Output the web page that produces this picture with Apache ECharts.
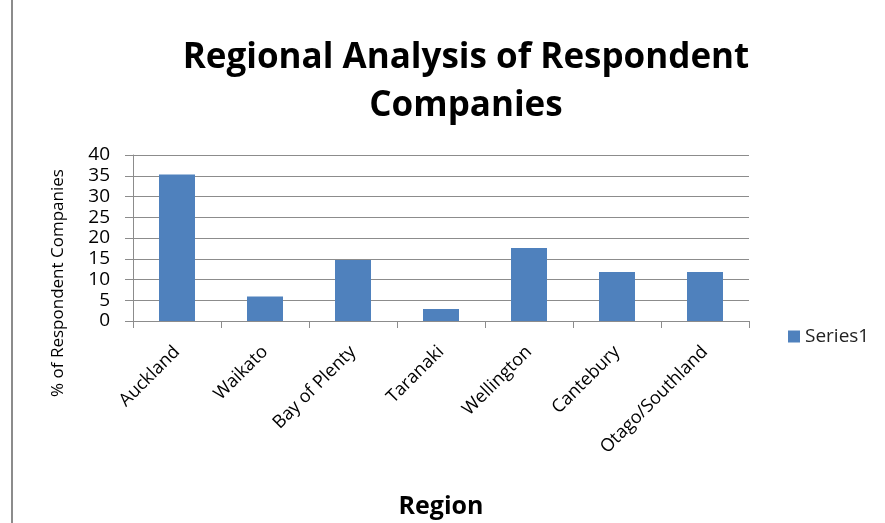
<!DOCTYPE html>
<html>
<head>
<meta charset="utf-8">
<script src="https://cdn.jsdelivr.net/npm/echarts@6/dist/echarts.min.js"></script>
<style>
  html, body { margin: 0; padding: 0; background: #fff; }
  #chart { width: 885px; height: 523px; }
</style>
</head>
<body>
<div id="chart"></div>
<script>
var regions = ['Auckland', 'Waikato', 'Bay of Plenty', 'Taranaki', 'Wellington', 'Cantebury', 'Otago/Southland']
var series1 = [35.3, 5.9, 14.7, 2.9, 17.6, 11.8, 11.8]
var font = 'Open Sans'

var myChart = echarts.init(document.getElementById('chart'))
var option = {
  animation: false,
  title: {
    text: 'Regional Analysis of Respondent\nCompanies',
    left: 461,
    textAlign: 'center',
    top: 29,
    textStyle: {
      fontFamily: font,
      fontWeight: 'bold',
      fontSize: 35,
      lineHeight: 48,
      color: '#000'
    }
  },
  legend: {
    data: ['Series1'],
    left: 788,
    top: 327,
    padding: 0,
    itemWidth: 12,
    itemHeight: 12,
    icon: 'rect',
    itemGap: 6,
    textStyle: { fontFamily: font, fontSize: 19, color: '#222' }
  },
  grid: {
    left: 133,
    right: 136,
    top: 155,
    bottom: 202
  },
  xAxis: {
    type: 'category',
    data: regions,
    name: 'Region',
    nameLocation: 'middle',
    nameGap: 173,
    nameTextStyle: { fontFamily: font, fontWeight: 'bold', fontSize: 25, color: '#000' },
    axisLine: { lineStyle: { color: '#8c8c8c', width: 1 } },
    axisTick: { show: true, length: 7, lineStyle: { color: '#8c8c8c' } },
    axisLabel: {
      rotate: 45,
      margin: 28,
      fontFamily: font,
      fontSize: 18,
      color: '#000'
    }
  },
  yAxis: {
    type: 'value',
    min: 0,
    max: 40,
    interval: 5,
    axisLine: { show: true, lineStyle: { color: '#8c8c8c', width: 1 } },
    axisTick: { show: true, length: 8, lineStyle: { color: '#8c8c8c' } },
    axisLabel: { margin: 23, fontFamily: font, fontSize: 19, color: '#000' },
    splitLine: { lineStyle: { color: '#8c8c8c', width: 1 } }
  },
  series: [
    {
      name: 'Series1',
      type: 'bar',
      data: series1,
      barWidth: 36,
      itemStyle: { color: '#4f81bd' }
    }
  ],
  graphic: [
    {
      type: 'line',
      shape: { x1: 12, y1: 0, x2: 12, y2: 523 },
      style: { stroke: '#8c8c8c', lineWidth: 2 }
    },
    {
      type: 'text',
      x: 58,
      y: 283,
      rotation: Math.PI / 2,
      style: {
        text: '% of Respondent Companies',
        font: '17px "Open Sans"',
        fill: '#000',
        align: 'center',
        verticalAlign: 'middle'
      }
    }
  ]
}
myChart.setOption(option)
</script>
</body>
</html>
